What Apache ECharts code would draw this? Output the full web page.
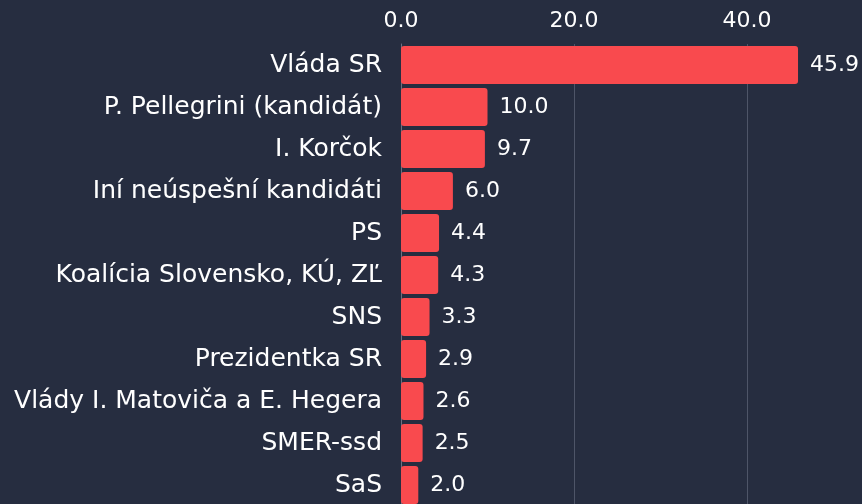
<!DOCTYPE html>
<html>
<head>
<meta charset="utf-8">
<script src="https://cdn.jsdelivr.net/npm/echarts@6/dist/echarts.min.js"></script>
<style>
  html, body { margin: 0; padding: 0; background: #262d40; }
  #chart { width: 862px; height: 504px; }
</style>
</head>
<body>
<div id="chart"></div>
<script>
// categories in order from top to bottom
var categories = [
  'Vláda SR',
  'P. Pellegrini (kandidát)',
  'I. Korčok',
  'Iní neúspešní kandidáti',
  'PS',
  'Koalícia Slovensko, KÚ, ZĽ',
  'SNS',
  'Prezidentka SR',
  'Vlády I. Matoviča a E. Hegera',
  'SMER-ssd',
  'SaS'
];
var values = [45.9, 10.0, 9.7, 6.0, 4.4, 4.3, 3.3, 2.9, 2.6, 2.5, 2.0];
var xTicks = [0, 20, 40, 60];

var chartDom = document.getElementById('chart');
var myChart = echarts.init(chartDom);
var font = 'DejaVu Sans';

var option = {
  backgroundColor: '#262d40',
  animation: false,
  grid: {
    left: 401,
    top: 44,
    width: 519,
    height: 462,
    containLabel: false,
    outerBoundsMode: 'none'
  },
  xAxis: {
    type: 'value',
    position: 'top',
    min: xTicks[0],
    max: xTicks[xTicks.length - 1],
    interval: 20,
    axisLine: { show: false },
    axisTick: { show: false },
    axisLabel: {
      color: '#ffffff',
      fontFamily: font,
      fontSize: 22,
      margin: 12,
      formatter: function (v) { return v.toFixed(1); }
    },
    splitLine: {
      show: true,
      lineStyle: { color: '#4e5568', width: 1 }
    }
  },
  yAxis: {
    type: 'category',
    inverse: true,
    data: categories,
    axisLine: { show: true, lineStyle: { color: '#6a7080', width: 1 } },
    axisTick: { show: false },
    axisLabel: {
      color: '#ffffff',
      fontFamily: font,
      fontSize: 25,
      margin: 19
    }
  },
  series: [
    {
      type: 'bar',
      data: values,
      barCategoryGap: '9.5%',
      itemStyle: { color: '#f94a4e', borderRadius: 3 },
      label: {
        show: true,
        position: 'right',
        distance: 12,
        color: '#ffffff',
        fontFamily: font,
        fontSize: 22,
        formatter: function (p) { return p.value.toFixed(1); }
      }
    }
  ]
};

myChart.setOption(option);
</script>
</body>
</html>
